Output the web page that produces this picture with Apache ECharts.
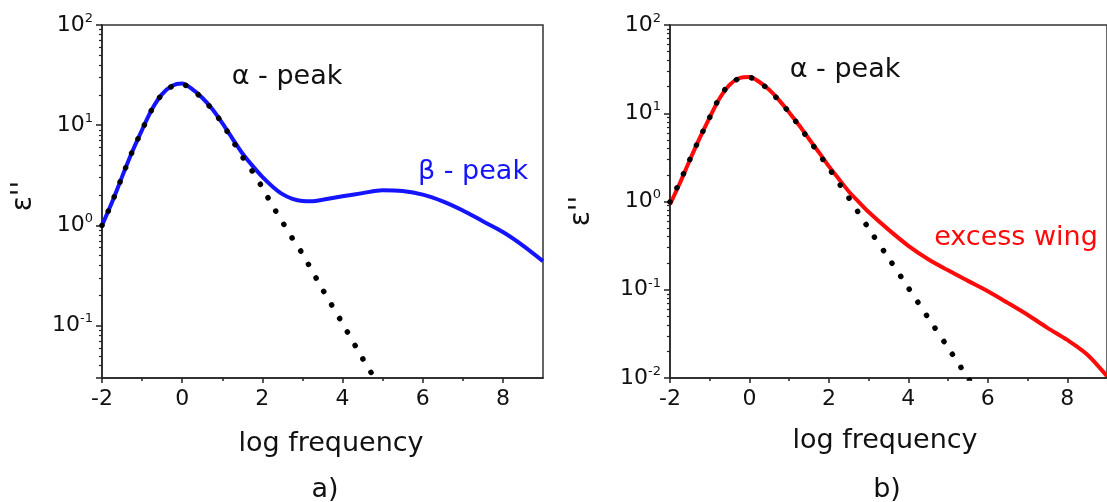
<!DOCTYPE html>
<html>
<head>
<meta charset="utf-8">
<script src="https://cdn.jsdelivr.net/npm/echarts@6/dist/echarts.min.js"></script>
<style>html,body{margin:0;padding:0;background:#fff}#c{width:1107px;height:502px}</style>
</head>
<body>
<div id="c"></div>
<script>
// ---------- data (log frequency, epsilon'') ----------
const logFreqBeta = [-2,-1.75,-1.5,-1.25,-1,-0.75,-0.5,-0.25,0,0.25,0.5,0.75,1,1.25,1.5,1.75,2,2.25,2.5,2.75,3,3.25,3.5,4,4.5,5,5.5,6,6.5,7,7.5,8,8.5,9];
const epsBeta = [1.0,1.70,3.05,5.4,9.0,14.5,20.4,24.8,26.0,22.9,18.8,14.5,10.5,7.4,5.25,3.95,3.05,2.45,2.05,1.84,1.75,1.74,1.8,1.95,2.1,2.24,2.2,2.03,1.74,1.41,1.10,0.86,0.63,0.44];

const logFreqFitA = [-2,-1.75,-1.5,-1.25,-1,-0.75,-0.5,-0.25,0,0.25,0.5,0.75,1,1.25,1.5,1.75,2,2.25,2.5,2.75,3,3.5,4,4.5,5];
const epsFitA = [1.0,1.7,3.05,5.4,8.97,14.5,20.4,24.5,25.7,22.4,18.6,14.3,10.4,7.1,4.86,3.47,2.38,1.58,1.08,0.74,0.52,0.23,0.105,0.047,0.022];

const logFreqWing = [-2,-1.75,-1.5,-1.25,-1,-0.75,-0.5,-0.25,0,0.25,0.5,0.75,1,1.25,1.5,1.75,2,2.25,2.5,2.75,3,3.5,4,4.5,5,5.5,6,6.5,7,7.5,8,8.5,9];
const epsWing = [0.93,1.62,2.95,5.25,9.0,14.8,21.0,25.0,25.7,22.6,18.4,14.0,10.2,7.3,5.1,3.6,2.5,1.8,1.3,0.99,0.76,0.48,0.315,0.222,0.166,0.126,0.096,0.071,0.052,0.037,0.027,0.0185,0.0105];

const logFreqFitB = [-2,-1.75,-1.5,-1.25,-1,-0.75,-0.5,-0.25,0,0.25,0.5,0.75,1,1.25,1.5,1.75,2,2.25,2.5,2.75,3,3.5,4,4.5,5,5.5,6];
const epsFitB = [0.99,1.68,2.99,5.25,9.0,15.1,21.4,24.8,25.4,22.4,18.2,13.8,10.2,7.16,5.0,3.47,2.38,1.62,1.1,0.74,0.495,0.229,0.105,0.048,0.022,0.01,0.0046];

const xMajorTicks = [-2,0,2,4,6,8];
const xMinorTicks = [-1,1,3,5,7];
const yMinorTicksA = [0.04,0.05,0.06,0.07,0.08,0.09,0.2,0.3,0.4,0.5,0.6,0.7,0.8,0.9,2,3,4,5,6,7,8,9,20,30,40,50,60,70,80,90];
const yMinorTicksB = [0.02,0.03,0.04,0.05,0.06,0.07,0.08,0.09,0.2,0.3,0.4,0.5,0.6,0.7,0.8,0.9,2,3,4,5,6,7,8,9,20,30,40,50,60,70,80,90];
const yMinA = 0.03, yMinB = 0.01, yMax = 100;

// ---------- styling ----------
const FONT = 'DejaVu Sans';
const AX = '#222';
const pair = (xs, ys) => xs.map((x, i) => [x, ys[i]]);

function supFmt(v) {
  const e = Math.log10(v);
  const r = Math.round(e);
  if (Math.abs(e - r) > 1e-6) return '';
  return '{b|10}{s|' + r + '}';
}
const supRich = {
  b: {fontFamily: FONT, fontSize: 22, color: '#111', lineHeight: 26},
  s: {fontFamily: FONT, fontSize: 13, color: '#111', verticalAlign: 'top', lineHeight: 14}
};

function xMain(gi) {
  return {
    type: 'value', gridIndex: gi, min: -2, max: 9, position: 'bottom',
    axisLine: {show: true, onZero: false, lineStyle: {color: AX, width: 1.5}},
    axisTick: {show: true, customValues: xMajorTicks, length: 5, lineStyle: {color: AX, width: 1.5}},
    axisLabel: {customValues: xMajorTicks, fontFamily: FONT, fontSize: 22, color: '#111', margin: 10},
    splitLine: {show: false}
  };
}
function xMinor(gi) {
  return {
    type: 'value', gridIndex: gi, min: -2, max: 9, position: 'bottom',
    axisLine: {show: false, onZero: false},
    axisTick: {show: true, customValues: xMinorTicks, length: 3, lineStyle: {color: AX, width: 1.5}},
    axisLabel: {show: false}, splitLine: {show: false}
  };
}
function yMain(gi, min) {
  return {
    type: 'log', logBase: 10, gridIndex: gi, min: min, max: yMax, position: 'left',
    axisLine: {show: true, onZero: false, lineStyle: {color: AX, width: 1.5}},
    axisTick: {show: true, length: 6, lineStyle: {color: AX, width: 1.5}},
    axisLabel: {formatter: supFmt, rich: supRich, margin: 9},
    splitLine: {show: false}, minorTick: {show: false}
  };
}
function yMinor(gi, min, ticks) {
  return {
    type: 'value', gridIndex: gi, min: Math.log10(min), max: Math.log10(yMax), position: 'left',
    axisLine: {show: false, onZero: false},
    axisTick: {show: true, customValues: ticks.map(Math.log10), length: 3, lineStyle: {color: AX, width: 1.2}},
    axisLabel: {show: false}, splitLine: {show: false}
  };
}
function txt(text, x, y, color, size, rot) {
  return {
    type: 'text', x: x, y: y, rotation: rot || 0, z: 100,
    style: {text: text, fill: color, font: size + 'px "' + FONT + '"', align: 'center', verticalAlign: 'middle'}
  };
}
const dotted = {color: '#000', width: 5.5, type: [0.1, 15.5], cap: 'round'};

const option = {
  animation: false,
  backgroundColor: '#fff',
  grid: [
    {left: 102, top: 25, width: 441, height: 353, show: true, borderColor: '#333', borderWidth: 1.5, backgroundColor: 'transparent'},
    {left: 670, top: 25, width: 440, height: 353, show: true, borderColor: '#333', borderWidth: 1.5, backgroundColor: 'transparent'}
  ],
  xAxis: [xMain(0), xMinor(0), xMain(1), xMinor(1)],
  yAxis: [yMain(0, yMinA), yMinor(0, yMinA, yMinorTicksA), yMain(1, yMinB), yMinor(1, yMinB, yMinorTicksB)],
  series: [
    {type: 'line', xAxisIndex: 0, yAxisIndex: 0, data: pair(logFreqBeta, epsBeta), showSymbol: false, smooth: 0.3,
     lineStyle: {color: '#1414ff', width: 4}, z: 2},
    {type: 'line', xAxisIndex: 0, yAxisIndex: 0, data: pair(logFreqFitA, epsFitA), showSymbol: false, smooth: 0.3,
     lineStyle: dotted, z: 3},
    {type: 'line', xAxisIndex: 2, yAxisIndex: 2, data: pair(logFreqWing, epsWing), showSymbol: false, smooth: 0.3,
     lineStyle: {color: '#ff0a0a', width: 4}, z: 2},
    {type: 'line', xAxisIndex: 2, yAxisIndex: 2, data: pair(logFreqFitB, epsFitB), showSymbol: false, smooth: 0.3,
     lineStyle: dotted, z: 3}
  ],
  graphic: [
    txt('\u03b1 - peak', 287, 77, '#111', 27),
    txt('\u03b2 - peak', 473, 172, '#1414ff', 27),
    txt('\u03b1 - peak', 845, 70, '#111', 27),
    txt('excess wing', 1016, 238, '#ff0a0a', 27),
    txt('log frequency', 331, 444, '#111', 27),
    txt('log frequency', 885, 441, '#111', 27),
    txt('a)', 325, 490, '#111', 27),
    txt('b)', 887, 490, '#111', 27),
    txt('\u03b5\'\'', 24, 196, '#111', 28, Math.PI / 2),
    txt('\u03b5\'\'', 582, 211, '#111', 28, Math.PI / 2)
  ]
};
const chart = echarts.init(document.getElementById('c'), null, {renderer: 'canvas'});
chart.setOption(option);
</script>
</body>
</html>
